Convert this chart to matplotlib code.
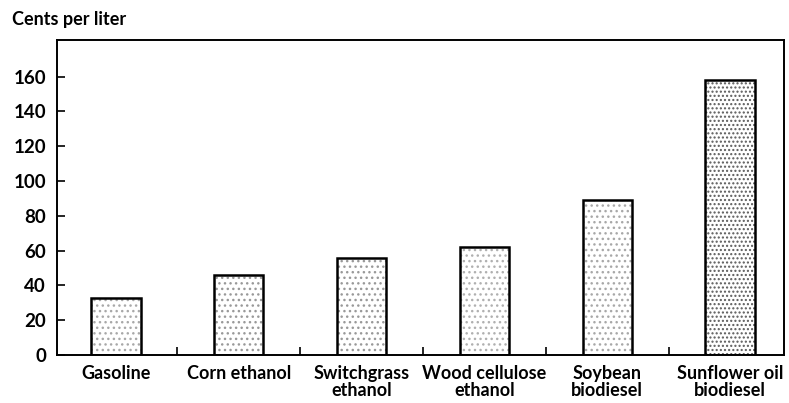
import matplotlib
matplotlib.use('Agg')
import matplotlib.pyplot as plt
import numpy as np

plt.rcParams['font.family'] = ['Lato', 'DejaVu Sans']
plt.rcParams['hatch.linewidth'] = 1.0

fuels = ['Gasoline', 'Corn ethanol', 'Switchgrass\nethanol', 'Wood cellulose\nethanol',
         'Soybean\nbiodiesel', 'Sunflower oil\nbiodiesel']
cents = [33, 46, 56, 62, 89, 158]
yticks = [0, 20, 40, 60, 80, 100, 120, 140, 160]

fig = plt.figure(figsize=(7.89, 4.03), dpi=100)
ax = fig.add_axes([57/789, 48/403, 727/789, 315/403])

x = np.arange(len(fuels))
hatches = ['...', '...', '...', '...', '...', '....']
shades = ['#a8a8a8', '#999999', '#999999', '#b0b0b0', '#a8a8a8', '#5a5a5a']
for xi, c, h, s in zip(x, cents, hatches, shades):
    ax.bar(xi, c, width=0.4, color='white', edgecolor=s, hatch=h, linewidth=0)
ax.bar(x, cents, width=0.4, fill=False, edgecolor='black', linewidth=1.8)

ax.set_xlim(-0.48, 5.44)
ax.set_ylim(0, 181)
ax.set_yticks(yticks)
ax.set_xticks(x)
ax.set_xticklabels(fuels, fontsize=13, fontweight='bold', linespacing=1.05)
ax.set_xticks(x[:-1] + 0.5, minor=True)
ax.tick_params(axis='x', which='major', length=0, pad=7)
ax.tick_params(axis='x', which='minor', direction='in', length=6, width=1.2)
ax.tick_params(axis='y', direction='in', length=6, width=1.2, labelsize=13.5, pad=8)
for lab in ax.get_yticklabels():
    lab.set_fontweight('bold')
for sp in ax.spines.values():
    sp.set_linewidth(1.4)

fig.text(12/789, 1 - 20/403, 'Cents per liter', fontsize=13, fontweight='bold', va='center')

fig.savefig('out.png', dpi=100)
